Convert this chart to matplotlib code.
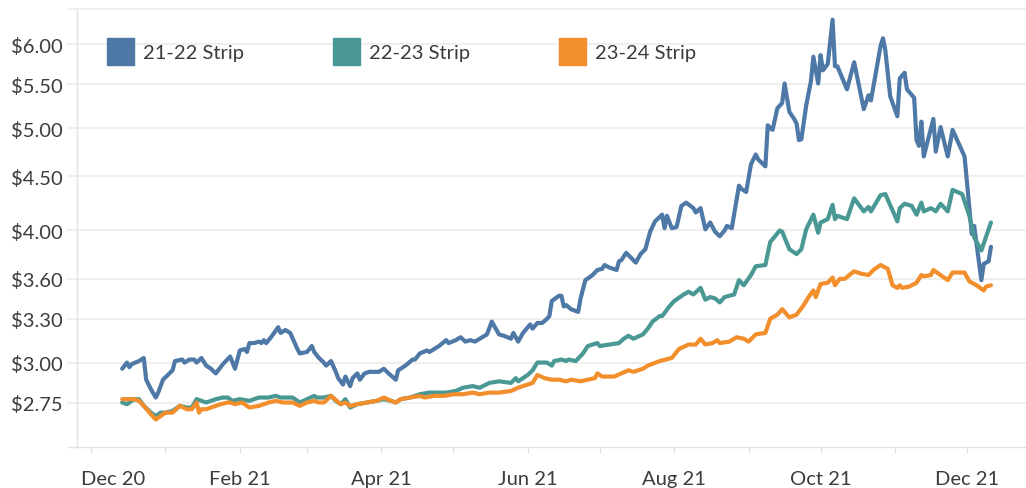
import numpy as np
import matplotlib
matplotlib.use("Agg")
import matplotlib.pyplot as plt
import matplotlib.dates as mdates
import matplotlib.transforms as mtransforms
from matplotlib.patches import Rectangle

# ---------------- data (days since 2020-12-01, $ value) ----------------
start_date = np.datetime64("2020-12-01")

strip_2122_days = [13, 15, 16, 17, 20, 22, 23, 25, 27, 28, 30, 34, 35, 38, 39, 41, 43, 44, 46, 48,
                   50, 52, 55, 58, 60, 62, 64, 65, 66, 68, 70, 71, 72, 73, 75, 78, 79, 81, 83, 86,
                   87, 90, 92, 93, 95, 97, 98, 100, 102, 103, 105, 106, 108, 109, 111, 112, 114, 116, 120, 122,
                   124, 127, 128, 131, 134, 135, 137, 140, 141, 143, 145, 148, 149, 152, 154, 156, 158, 160, 162, 165,
                   167, 170, 172, 175, 176, 178, 180, 183, 184, 186, 188, 190, 191, 192, 195, 196, 197, 198, 200, 203,
                   204, 206, 209, 211, 213, 214, 216, 219, 220, 221, 223, 225, 227, 229, 231, 233, 235, 238, 239, 240,
                   242, 244, 246, 248, 251, 252, 254, 256, 258, 260, 262, 264, 265, 267, 270, 271, 273, 275, 277, 278,
                   281, 282, 283, 284, 286, 288, 289, 291, 293, 294, 295, 296, 298, 300, 301, 303, 304, 305, 307, 309,
                   310, 311, 315, 318, 322, 324, 325, 329, 330, 331, 333, 336, 337, 339, 340, 343, 344, 345, 346, 347,
                   351, 352, 354, 357, 359, 364, 367, 368, 371, 372, 374, 375]
strip_2122 = [2.96, 3.00, 2.97, 2.99, 3.01, 3.03, 2.89, 2.83, 2.78, 2.81, 2.89, 2.95, 3.01, 3.02, 3.00, 3.02, 3.02, 3.00, 3.03, 2.98,
              2.96, 2.93, 2.99, 3.04, 2.96, 3.08, 3.09, 3.07, 3.13, 3.13, 3.14, 3.13, 3.15, 3.13, 3.17, 3.24, 3.20, 3.22, 3.20, 3.09,
              3.06, 3.07, 3.11, 3.07, 3.03, 3.00, 2.98, 3.01, 2.94, 2.90, 2.86, 2.91, 2.85, 2.90, 2.93, 2.89, 2.93, 2.94, 2.94, 2.96,
              2.93, 2.89, 2.95, 2.98, 3.02, 3.02, 3.06, 3.08, 3.07, 3.09, 3.11, 3.15, 3.13, 3.15, 3.17, 3.14, 3.15, 3.14, 3.16, 3.19,
              3.28, 3.19, 3.18, 3.16, 3.20, 3.14, 3.20, 3.26, 3.23, 3.27, 3.27, 3.30, 3.32, 3.43, 3.47, 3.47, 3.39, 3.40, 3.37, 3.35,
              3.45, 3.59, 3.63, 3.67, 3.68, 3.71, 3.69, 3.67, 3.74, 3.75, 3.81, 3.77, 3.73, 3.80, 3.84, 3.99, 4.08, 4.14, 4.02, 4.13,
              4.02, 4.03, 4.22, 4.25, 4.20, 4.16, 4.20, 4.01, 4.07, 3.99, 3.95, 4.00, 4.04, 4.02, 4.41, 4.38, 4.35, 4.62, 4.72, 4.67,
              4.60, 5.03, 5.00, 4.98, 5.22, 5.28, 5.51, 5.18, 5.10, 5.05, 4.87, 4.88, 5.25, 5.54, 5.84, 5.51, 5.86, 5.67, 5.75, 6.33,
              5.72, 5.72, 5.44, 5.77, 5.21, 5.37, 5.31, 5.98, 6.08, 5.92, 5.36, 5.13, 5.57, 5.64, 5.44, 5.34, 4.87, 4.81, 5.07, 4.70,
              5.10, 4.75, 5.01, 4.70, 4.98, 4.70, 3.97, 4.04, 3.59, 3.72, 3.74, 3.86]

strip_2223_days = [13, 15, 18, 20, 22, 25, 27, 29, 31, 34, 37, 40, 42, 44, 48, 52, 55, 57, 59, 62,
                   66, 70, 74, 77, 79, 84, 87, 90, 93, 94, 97, 100, 102, 104, 106, 108, 111, 115, 119, 122,
                   125, 127, 129, 133, 137, 141, 144, 148, 152, 155, 159, 162, 166, 170, 175, 177, 178, 182, 184, 186,
                   190, 192, 193, 196, 198, 199, 202, 205, 207, 211, 212, 216, 220, 222, 224, 226, 230, 232, 234, 237,
                   238, 241, 243, 247, 249, 251, 254, 256, 258, 260, 262, 264, 268, 270, 272, 275, 277, 281, 283, 285,
                   287, 288, 291, 294, 296, 298, 301, 303, 304, 307, 309, 310, 311, 315, 318, 322, 324, 325, 329, 331,
                   336, 337, 339, 342, 344, 346, 347, 350, 352, 354, 357, 359, 363, 366, 368, 371, 375]
strip_2223 = [2.75, 2.74, 2.77, 2.77, 2.73, 2.69, 2.67, 2.69, 2.69, 2.70, 2.73, 2.72, 2.72, 2.77, 2.75, 2.77, 2.78, 2.78, 2.76, 2.77,
              2.76, 2.78, 2.78, 2.79, 2.78, 2.78, 2.75, 2.77, 2.79, 2.78, 2.78, 2.79, 2.76, 2.74, 2.77, 2.72, 2.74, 2.75, 2.76, 2.77,
              2.76, 2.75, 2.77, 2.78, 2.80, 2.81, 2.81, 2.81, 2.82, 2.84, 2.85, 2.84, 2.87, 2.88, 2.87, 2.90, 2.88, 2.92, 2.95, 3.00,
              3.00, 2.98, 3.01, 3.02, 3.01, 3.02, 3.01, 3.06, 3.11, 3.13, 3.11, 3.12, 3.13, 3.16, 3.18, 3.16, 3.19, 3.23, 3.28, 3.32,
              3.32, 3.39, 3.43, 3.48, 3.50, 3.48, 3.53, 3.44, 3.46, 3.45, 3.42, 3.46, 3.48, 3.59, 3.55, 3.63, 3.70, 3.71, 3.90, 3.95,
              4.00, 3.99, 3.84, 3.80, 3.84, 4.01, 4.14, 3.98, 4.07, 4.10, 4.23, 4.10, 4.13, 4.10, 4.29, 4.17, 4.21, 4.17, 4.32, 4.33,
              4.08, 4.20, 4.24, 4.22, 4.14, 4.25, 4.17, 4.20, 4.17, 4.24, 4.17, 4.37, 4.33, 4.13, 3.94, 3.83, 4.07]

strip_2324_days = [13, 16, 18, 20, 22, 25, 27, 29, 31, 34, 37, 40, 42, 44, 45, 46, 48, 52, 54, 57,
                   58, 60, 63, 66, 70, 74, 77, 80, 84, 87, 90, 93, 95, 97, 100, 104, 106, 108, 111, 115,
                   119, 122, 125, 127, 129, 133, 137, 139, 143, 147, 151, 155, 159, 162, 166, 170, 175, 178, 182, 184,
                   186, 189, 192, 195, 198, 200, 204, 207, 210, 211, 213, 218, 221, 224, 226, 230, 232, 237, 242, 245,
                   249, 252, 254, 256, 259, 261, 262, 266, 269, 272, 274, 277, 281, 283, 286, 288, 291, 294, 297, 299,
                   301, 302, 304, 307, 309, 310, 312, 314, 318, 321, 324, 326, 329, 332, 334, 336, 337, 338, 341, 344,
                   346, 347, 350, 351, 354, 357, 359, 364, 366, 369, 372, 373, 375]
strip_2324 = [2.77, 2.77, 2.77, 2.76, 2.73, 2.68, 2.65, 2.67, 2.69, 2.69, 2.73, 2.71, 2.71, 2.75, 2.69, 2.71, 2.71, 2.73, 2.74, 2.75,
              2.75, 2.74, 2.75, 2.72, 2.73, 2.75, 2.76, 2.75, 2.75, 2.73, 2.75, 2.76, 2.75, 2.75, 2.79, 2.74, 2.75, 2.73, 2.74, 2.75,
              2.76, 2.78, 2.76, 2.75, 2.77, 2.78, 2.79, 2.78, 2.79, 2.79, 2.80, 2.80, 2.81, 2.80, 2.81, 2.81, 2.82, 2.84, 2.86, 2.87,
              2.92, 2.90, 2.89, 2.89, 2.88, 2.89, 2.88, 2.89, 2.90, 2.93, 2.91, 2.91, 2.93, 2.95, 2.94, 2.96, 2.98, 3.01, 3.03, 3.09,
              3.12, 3.12, 3.16, 3.12, 3.13, 3.15, 3.13, 3.14, 3.17, 3.16, 3.14, 3.19, 3.20, 3.30, 3.33, 3.37, 3.31, 3.33, 3.40, 3.46,
              3.51, 3.46, 3.56, 3.57, 3.61, 3.55, 3.60, 3.60, 3.66, 3.64, 3.63, 3.67, 3.71, 3.68, 3.55, 3.53, 3.55, 3.53, 3.54, 3.57,
              3.63, 3.62, 3.63, 3.67, 3.63, 3.59, 3.65, 3.65, 3.58, 3.55, 3.51, 3.54, 3.55]

series_names = ["21-22 Strip", "22-23 Strip", "23-24 Strip"]
series_colors = ["#4e79a7", "#499894", "#f28e2b"]

y_ticks = [2.75, 3.00, 3.30, 3.60, 4.00, 4.50, 5.00, 5.50, 6.00]
y_tick_labels = ["$2.75", "$3.00", "$3.30", "$3.60", "$4.00", "$4.50", "$5.00", "$5.50", "$6.00"]
x_tick_labels = ["Dec 20", "Feb 21", "Apr 21", "Jun 21", "Aug 21", "Oct 21", "Dec 21"]

# ---------------- figure ----------------
W, H = 1026, 489
DPI = 100
FS = 14.5
plt.rcParams["font.family"] = ["Lato", "DejaVu Sans"]
fig = plt.figure(figsize=(W / DPI, H / DPI), dpi=DPI)

ax_l, ax_r, ax_t, ax_b = 77, 1026, 10, 448
ax = fig.add_axes([ax_l / W, (H - ax_b) / H, (ax_r - ax_l) / W, (ax_b - ax_t) / H])

TEXT = "#3c3c3c"
GRID = "#efefef"
AXLINE = "#e2e2e2"


def to_dates(days):
    return start_date + np.array(days).astype("timedelta64[D]")


all_days = [strip_2122_days, strip_2223_days, strip_2324_days]
all_vals = [strip_2122, strip_2223, strip_2324]
for days, vals, col in zip(all_days, all_vals, series_colors):
    ax.plot(to_dates(days), vals, color=col, lw=3.0, solid_joinstyle="round",
            solid_capstyle="round", zorder=3)

ax.set_yscale("log")
ax.set_ylim(2.496, 6.48)
ax.set_yticks(y_ticks)
ax.set_yticklabels(y_tick_labels)
ax.yaxis.set_minor_locator(matplotlib.ticker.NullLocator())

x0 = mdates.date2num(start_date) - 5.83
x1 = mdates.date2num(start_date) + 389.6
ax.set_xlim(x0, x1)

major_dates = [np.datetime64(d) for d in ["2020-12-01", "2021-02-01", "2021-04-01", "2021-06-01",
                                           "2021-08-01", "2021-10-01", "2021-12-01"]]
minor_dates = [np.datetime64(d) for d in ["2021-01-01", "2021-03-01", "2021-05-01", "2021-07-01",
                                           "2021-09-01", "2021-11-01"]]
ax.set_xticks(mdates.date2num(major_dates))
ax.set_xticklabels(x_tick_labels)
ax.set_xticks(mdates.date2num(minor_dates), minor=True)

for s in ["top", "right"]:
    ax.spines[s].set_visible(False)
ax.spines["left"].set_color(AXLINE)
ax.spines["bottom"].set_color(AXLINE)
ax.spines["left"].set_linewidth(1.0)
ax.spines["bottom"].set_linewidth(1.0)

ax.tick_params(axis="y", length=0, pad=10, labelsize=FS, labelcolor=TEXT)
ax.tick_params(axis="x", which="both", length=4, width=1, color=AXLINE, pad=12.5,
               labelsize=FS, labelcolor=TEXT)

# shift first x label (kept inside like the original)
lbl0 = ax.get_xticklabels()[0]
lbl0.set_transform(lbl0.get_transform() + mtransforms.ScaledTranslation(22 / DPI, 0, fig.dpi_scale_trans))

# horizontal gridlines extending left of the axis
trans = mtransforms.blended_transform_factory(ax.transAxes, ax.transData)
ext = -9 / (ax_r - ax_l)
for yv in y_ticks:
    ax.plot([ext, 1], [yv, yv], color=GRID, lw=1.5, transform=trans, clip_on=False, zorder=0)
ax.plot([ext, 1], [1, 1], color=GRID, lw=1.2, transform=ax.transAxes, clip_on=False, zorder=0)
ax.plot([ext, 0], [0, 0], color=AXLINE, lw=1.0, transform=ax.transAxes, clip_on=False, zorder=0)

# legend (inside plot, top)
leg_sq_x = [107, 333, 559]
for name, col, sx in zip(series_names, series_colors, leg_sq_x):
    fig.patches.append(Rectangle((sx / W, (H - 66) / H), 27 / W, 27 / H,
                                 transform=fig.transFigure, color=col, zorder=5))
    fig.text((sx + 36) / W, (H - 53) / H, name, ha="left", va="center",
             fontsize=FS, color=TEXT)

fig.savefig("out.png", dpi=DPI)
